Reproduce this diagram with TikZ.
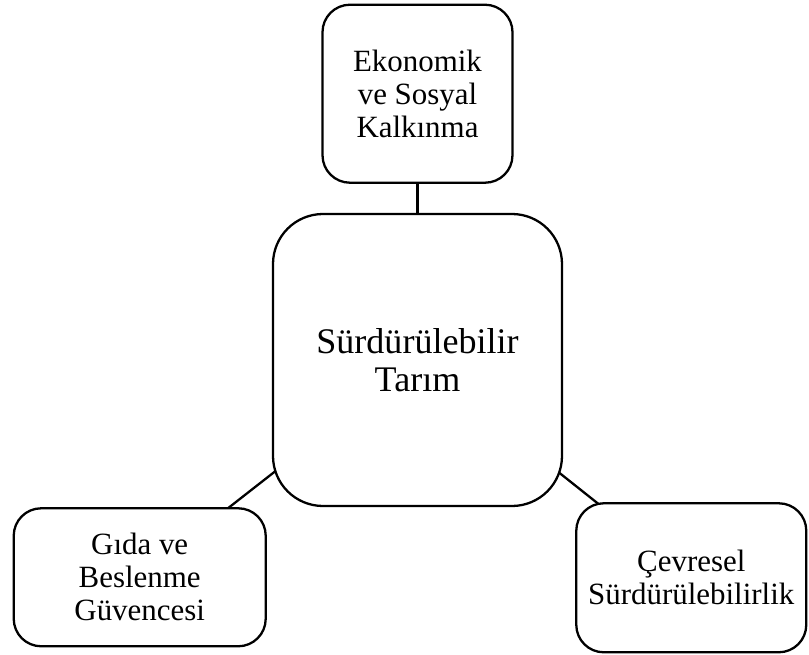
\documentclass[tikz,border=0pt]{standalone}
\usepackage{fontspec}
\setmainfont{Liberation Serif}
\usetikzlibrary{positioning, backgrounds}

\begin{document}
\begin{tikzpicture}[
    node distance=0.58cm,
    goal/.style={rectangle, draw=black, fill=white, line width=1.3pt, rounded corners=0.55cm, align=center, inner sep=0pt, font=\fontsize{17.6}{18.8}\selectfont},
    core/.style={goal, rounded corners=1cm, minimum width=5.78cm, minimum height=5.84cm, font=\fontsize{20.5}{21.6}\selectfont},
    link/.style={line width=1.3pt}
]
    \useasboundingbox (0,0) rectangle (16.18,-13.1);

    % Central node
    \node[core] (tarim) at (8.35,-7.2) {Sürdürülebilir\\Tarım};

    % Economic and social
    \node[goal, minimum width=3.8cm, minimum height=3.56cm, above=of tarim] (ekonomi) {Ekonomik\\ve Sosyal\\Kalkınma};

    % Food security
    \node[goal, minimum width=5.04cm, minimum height=2.76cm, below left=0cm and 0.1cm of tarim] (gida) {Gıda ve\\Beslenme\\Güvencesi};

    % Environment
    \node[goal, minimum width=4.6cm, minimum height=2.98cm, below right=-0.1cm and 0.24cm of tarim] (cevre) {Çevresel\\Sürdürülebilirlik};

    % Links
    \begin{scope}[on background layer]
        \draw[link] (tarim.center) -- (ekonomi.center);
        \draw[link] (tarim.center) -- (gida.center);
        \draw[link] (tarim.center) -- (cevre.center);
    \end{scope}

\end{tikzpicture}
\end{document}
